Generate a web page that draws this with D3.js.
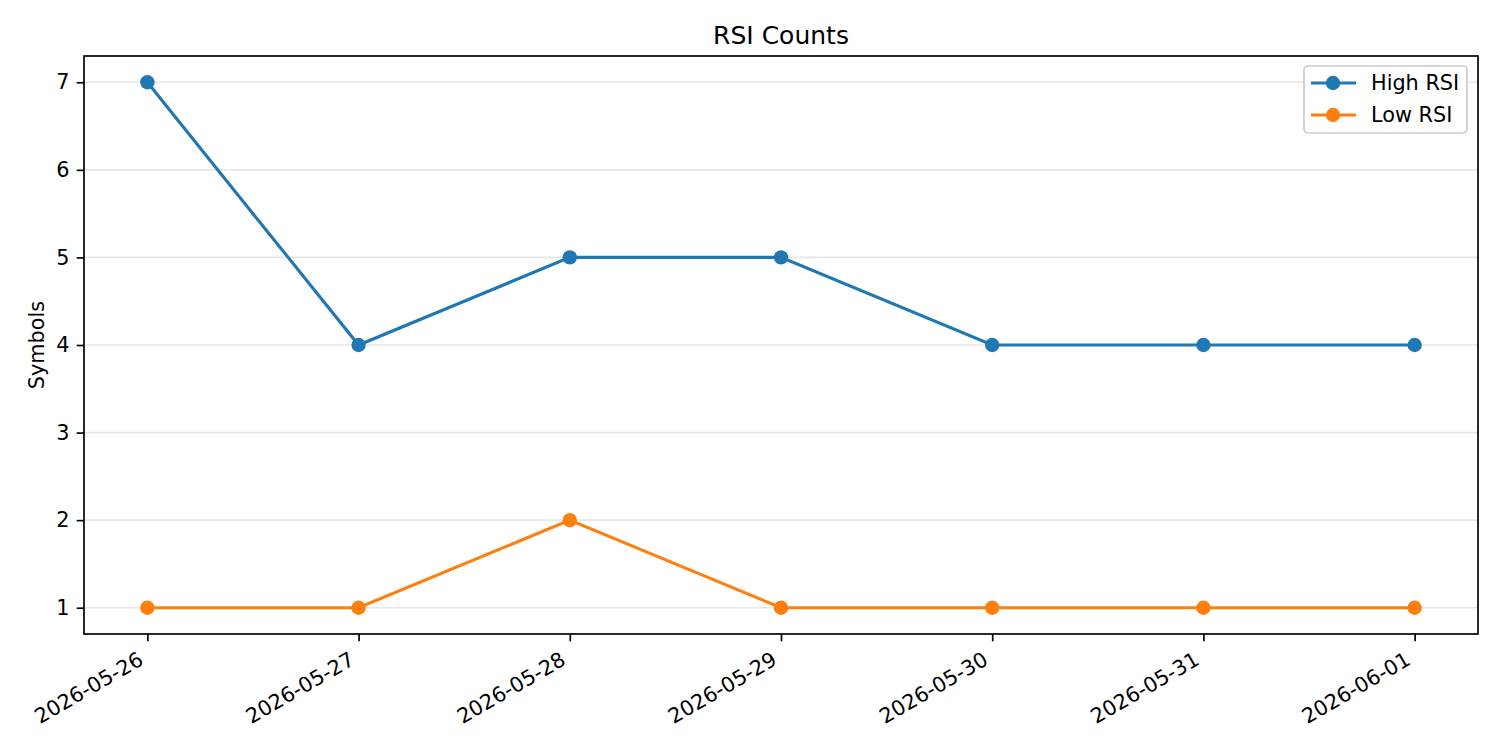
<!DOCTYPE html>
<html>
<head>
<meta charset="utf-8">
<script src="https://cdn.jsdelivr.net/npm/d3@7"></script>
<style>
  body { margin: 0; background: #fff; }
  svg { font-family: "DejaVu Sans", sans-serif; }
</style>
</head>
<body>
<svg id="chart" width="1500" height="750"></svg>
<script>
// Data
const dates = ['2026-05-26', '2026-05-27', '2026-05-28', '2026-05-29', '2026-05-30', '2026-05-31', '2026-06-01'];
const highRsi = [7, 4, 5, 5, 4, 4, 4];
const lowRsi = [1, 1, 2, 1, 1, 1, 1];
const yTicks = [1, 2, 3, 4, 5, 6, 7];
const seriesNames = ['High RSI', 'Low RSI'];
const seriesColors = ['#1f77b4', '#ff7f0e'];

const svg = d3.select('#chart');
const parse = d3.utcParse('%Y-%m-%d');
const fmt = d3.utcFormat('%Y-%m-%d');
const xs = dates.map(parse);

const plotL = 84, plotR = 1478, plotT = 56, plotB = 634;
const day = 864e5;

// matplotlib style 5% margins
const x = d3.scaleUtc()
  .domain([new Date(+xs[0] - 0.3 * day), new Date(+xs[xs.length - 1] + 0.3 * day)])
  .range([plotL, plotR]);
const y = d3.scaleLinear().domain([0.7, 7.3]).range([plotB, plotT]);

// Grid
svg.append('g')
  .selectAll('line')
  .data(yTicks)
  .join('line')
  .attr('x1', plotL).attr('x2', plotR)
  .attr('y1', (d) => y(d)).attr('y2', (d) => y(d))
  .attr('stroke', '#b0b0b0')
  .attr('stroke-opacity', 0.3)
  .attr('stroke-width', 1.67);

// Series
const series = [highRsi, lowRsi];
const line = d3.line().x((d, i) => x(xs[i])).y((d) => y(d));

series.forEach((vals, k) => {
  const g = svg.append('g');
  g.append('path')
    .datum(vals)
    .attr('d', line)
    .attr('fill', 'none')
    .attr('stroke', seriesColors[k])
    .attr('stroke-width', 3.1);
  g.selectAll('circle')
    .data(vals)
    .join('circle')
    .attr('cx', (d, i) => x(xs[i]))
    .attr('cy', (d) => y(d))
    .attr('r', 7.2)
    .attr('fill', seriesColors[k]);
});

// Axes
const xAxis = svg.append('g')
  .attr('transform', `translate(0,${plotB})`)
  .call(d3.axisBottom(x).tickValues(xs).tickFormat(fmt).tickSize(7.3));
xAxis.select('.domain').remove();
xAxis.selectAll('.tick line').attr('stroke', '#000').attr('stroke-width', 1.67);
// rotated labels, right end of baseline just under the tick
xAxis.selectAll('.tick text')
  .attr('font-size', 20.8)
  .attr('font-family', '"DejaVu Sans", sans-serif')
  .attr('fill', '#000')
  .attr('text-anchor', 'end')
  .attr('x', null)
  .attr('y', null)
  .attr('dy', null)
  .attr('transform', 'translate(-3.2,29.7) rotate(-30)');

const yAxis = svg.append('g')
  .attr('transform', `translate(${plotL},0)`)
  .call(d3.axisLeft(y).tickValues(yTicks).tickFormat(d3.format('d')).tickSize(7.3).tickPadding(7.3));
yAxis.select('.domain').remove();
yAxis.selectAll('.tick line').attr('stroke', '#000').attr('stroke-width', 1.67);
yAxis.selectAll('.tick text')
  .attr('font-size', 20.8)
  .attr('font-family', '"DejaVu Sans", sans-serif')
  .attr('fill', '#000');

// Frame
svg.append('rect')
  .attr('x', plotL).attr('y', plotT)
  .attr('width', plotR - plotL).attr('height', plotB - plotT)
  .attr('fill', 'none')
  .attr('stroke', '#000')
  .attr('stroke-width', 1.67);

// Title and label
svg.append('text')
  .attr('x', (plotL + plotR) / 2).attr('y', 44)
  .attr('text-anchor', 'middle')
  .attr('font-size', 25)
  .text('RSI Counts');

svg.append('text')
  .attr('transform', `translate(43.5,${(plotT + plotB) / 2}) rotate(-90)`)
  .attr('text-anchor', 'middle')
  .attr('font-size', 20.8)
  .text('Symbols');

// Legend
const lg = svg.append('g').attr('transform', 'translate(1304,66)');
lg.append('rect')
  .attr('width', 163).attr('height', 67)
  .attr('rx', 4)
  .attr('fill', '#fff').attr('fill-opacity', 0.8)
  .attr('stroke', '#cccccc').attr('stroke-width', 1.67);
seriesNames.forEach((name, k) => {
  const cy = 17 + k * 32;
  lg.append('line')
    .attr('x1', 7).attr('x2', 52).attr('y1', cy).attr('y2', cy)
    .attr('stroke', seriesColors[k]).attr('stroke-width', 3.1);
  lg.append('circle')
    .attr('cx', 29).attr('cy', cy).attr('r', 7.2)
    .attr('fill', seriesColors[k]);
  lg.append('text')
    .attr('x', 67).attr('y', cy)
    .attr('dy', '0.36em')
    .attr('font-size', 20.8)
    .text(name);
});
</script>
</body>
</html>
